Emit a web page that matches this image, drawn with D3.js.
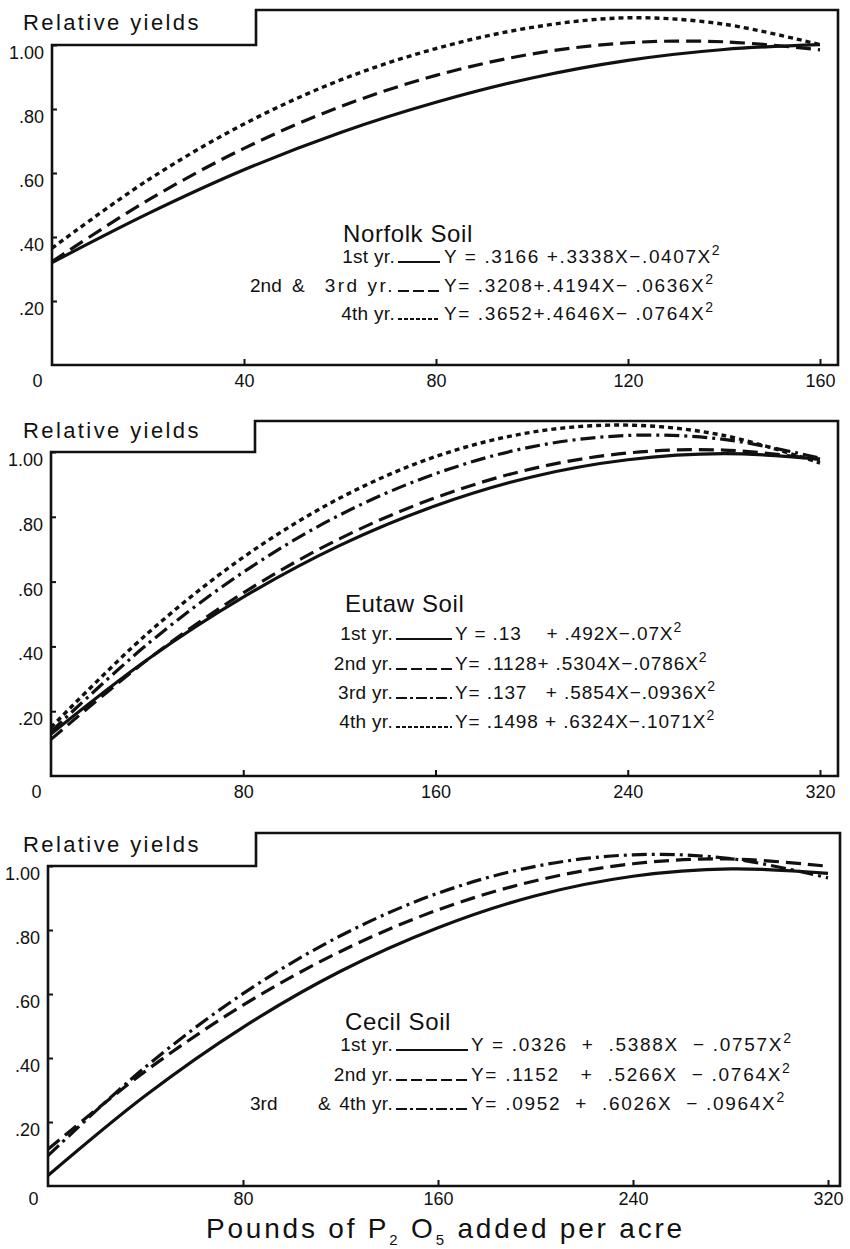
<!DOCTYPE html>
<html><head><meta charset="utf-8">
<script src="https://cdn.jsdelivr.net/npm/d3@7"></script>
<style>
body{margin:0;background:#fff}
svg{display:block}
text{font-family:"Liberation Sans",Arial,sans-serif;fill:#111}
</style>
</head><body>
<svg id="c" width="850" height="1249"></svg>
<script>
// ---------------- DATA ----------------
const norfolkLbs      = [0, 20, 40, 60, 80, 100, 120, 140, 160];
const norfolk1st      = [0.320, 0.473, 0.610, 0.726, 0.821, 0.897, 0.952, 0.986, 1.001];
const norfolk2nd3rd   = [0.323, 0.515, 0.677, 0.807, 0.905, 0.972, 1.007, 1.010, 0.985];
const norfolk4th      = [0.365, 0.578, 0.753, 0.890, 0.989, 1.055, 1.085, 1.065, 1.001];
const norfolkTicks    = [0, 40, 80, 120, 160];
const norfolkLabels   = ["2nd", "&"];
const norfolkRowLabels= ["1st yr.", "3rd yr.", "4th yr."];
const norfolkEqs      = ["Y = .3166 +.3338X\u2212.0407X", "Y= .3208+.4194X\u2212 .0636X", "Y= .3652+.4646X\u2212 .0764X"];

const eutawLbs        = [0, 40, 80, 120, 160, 200, 240, 280, 320];
const eutaw1st        = [0.130, 0.359, 0.552, 0.711, 0.834, 0.923, 0.976, 0.995, 0.978];
const eutaw2nd        = [0.113, 0.358, 0.565, 0.732, 0.859, 0.948, 0.997, 1.006, 0.977];
const eutaw3rd        = [0.137, 0.406, 0.629, 0.805, 0.933, 1.016, 1.051, 1.039, 0.981];
const eutaw4th        = [0.150, 0.439, 0.675, 0.857, 0.986, 1.061, 1.083, 1.051, 0.966];
const eutawTicks      = [0, 80, 160, 240, 320];
const eutawRowLabels  = ["1st yr.", "2nd yr.", "3rd yr.", "4th yr."];
const eutawEqs        = ["Y = .13    + .492X\u2212.07X", "Y= .1128+ .5304X\u2212.0786X", "Y= .137   + .5854X\u2212.0936X", "Y= .1498 + .6324X\u2212.1071X"];

const cecilLbs        = [0, 40, 80, 120, 160, 200, 240, 280, 320];
const cecil1st        = [0.033, 0.283, 0.496, 0.671, 0.807, 0.907, 0.968, 0.991, 0.977];
const cecil2nd        = [0.115, 0.359, 0.565, 0.733, 0.863, 0.954, 1.007, 1.022, 0.999];
const cecil3rd4th     = [0.095, 0.372, 0.601, 0.782, 0.915, 0.999, 1.035, 1.023, 0.963];
const cecilTicks      = [0, 80, 160, 240, 320];
const cecilLabels     = ["3rd", "&"];
const cecilRowLabels  = ["1st yr.", "2nd yr.", "4th yr."];
const cecilEqs        = ["Y = .0326  +  .5388X  \u2212 .0757X", "Y= .1152   +  .5266X  \u2212 .0764X", "Y= .0952  +  .6026X  \u2212 .0964X"];

const yTicks          = [0.2, 0.4, 0.6, 0.8, 1.0];
const yAxisTitle      = "Relative yields";

// ---------------- STYLES ----------------
const INK = "#111";
const styleSolid   = {dash: null,        w: 3.2, key: "dash0"};
const styleDash    = {dash: "15,7",      w: 3.2, key: "dash"};
const styleDot     = {dash: "5,4",       w: 3.4, key: "dot"};
const styleDashDot = {dash: "15,5,3,5",  w: 3.2, key: "dashdot"};
const sampleDash   = {dash0: null, dash: "11,4", dot: "4,2", dashdot: "11,3,3,3"};

const panels = [
  {name: "Norfolk Soil", lbs: norfolkLbs, xMax: 160, ticks: norfolkTicks,
   series: [[norfolk1st, styleSolid], [norfolk2nd3rd, styleDash], [norfolk4th, styleDot]],
   rowLabels: norfolkRowLabels, extra: {row: 1, words: norfolkLabels, xs: [250, 292]}, eqs: norfolkEqs, eqLs: 1.6,
   left: 52, xEnd: 820, right: 838, bottom: 365, y1: 45, top: 10, stepX: 256, titleY: 30, tickPad: 9,
   legX: 343, legTitleY: 242, rows: [263, 292, 320], labelEnd: 395, sample: [398, 440], eqX: 444},
  {name: "Eutaw Soil", lbs: eutawLbs, xMax: 320, ticks: eutawTicks,
   series: [[eutaw1st, styleSolid], [eutaw2nd, styleDash], [eutaw3rd, styleDashDot], [eutaw4th, styleDot]],
   rowLabels: eutawRowLabels, extra: null, eqs: eutawEqs, eqLs: 0.9,
   left: 51, xEnd: 820, right: 838, bottom: 776, y1: 452, top: 421, stepX: 255, titleY: 438, tickPad: 9,
   legX: 345, legTitleY: 612, rows: [640, 670, 699, 728], labelEnd: 393, sample: [396, 452], eqX: 455},
  {name: "Cecil Soil", lbs: cecilLbs, xMax: 320, ticks: cecilTicks,
   series: [[cecil1st, styleSolid], [cecil2nd, styleDash], [cecil3rd4th, styleDashDot]],
   rowLabels: cecilRowLabels, extra: {row: 2, words: cecilLabels, xs: [250, 318]}, eqs: cecilEqs, eqLs: 1.7,
   left: 48, xEnd: 828, right: 840, bottom: 1186, y1: 866, top: 833, stepX: 256, titleY: 852, tickPad: 6,
   legX: 345, legTitleY: 1030, rows: [1051, 1081, 1110], labelEnd: 393, sample: [396, 468], eqX: 471}
];

const svg = d3.select("#c");
svg.append("rect").attr("width", 850).attr("height", 1249).attr("fill", "#fff");

panels.forEach(p => {
  const x = d3.scaleLinear().domain([0, p.xMax]).range([p.left, p.xEnd]);
  const y = d3.scaleLinear().domain([0, 1]).range([p.bottom, p.y1]);
  const g = svg.append("g");

  // frame with step
  g.append("path")
    .attr("d", `M${p.left},${p.bottom}L${p.left},${p.y1}L${p.stepX},${p.y1}L${p.stepX},${p.top}L${p.right},${p.top}L${p.right},${p.bottom}Z`)
    .attr("fill", "none").attr("stroke", INK).attr("stroke-width", 2.6);

  // x axis
  const xa = g.append("g").attr("transform", `translate(0,${p.bottom})`)
    .call(d3.axisBottom(x).tickValues(p.ticks).tickSize(-6).tickPadding(p.tickPad).tickFormat(d3.format("d")));
  xa.select(".domain").remove();
  xa.selectAll(".tick line").attr("stroke", INK).attr("stroke-width", 2);
  xa.selectAll(".tick text").attr("font-size", 18).attr("fill", INK);
  xa.selectAll(".tick").filter(d => d === 0).select("line").remove();
  xa.selectAll(".tick").filter(d => d === 0).select("text").attr("x", -15);

  // y axis
  const ya = g.append("g").attr("transform", `translate(${p.left},0)`)
    .call(d3.axisLeft(y).tickValues(yTicks).tickSize(-5).tickPadding(8)
      .tickFormat(d => d3.format(".2f")(d).replace(/^0/, "")));
  ya.select(".domain").remove();
  ya.selectAll(".tick line").attr("stroke", INK).attr("stroke-width", 2);
  ya.selectAll(".tick text").attr("font-size", 18).attr("fill", INK).attr("dy", "0.75em");

  // axis title
  g.append("text").attr("x", 23).attr("y", p.titleY)
    .attr("font-size", 22).attr("letter-spacing", 2.4).text(yAxisTitle);

  // curves
  const line = d3.line().x((d, i) => x(p.lbs[i])).y(d => y(d)).curve(d3.curveCatmullRom.alpha(0.5));
  p.series.forEach(([vals, st]) => {
    g.append("path").datum(vals).attr("d", line)
      .attr("fill", "none").attr("stroke", INK).attr("stroke-width", st.w)
      .attr("stroke-dasharray", st.dash).attr("stroke-linecap", "butt");
  });

  // legend
  g.append("text").attr("x", p.legX).attr("y", p.legTitleY)
    .attr("font-size", 24).attr("letter-spacing", 0.6).text(p.name);
  p.rows.forEach((ry, i) => {
    const st = p.series[i][1];
    g.append("text").attr("x", p.labelEnd).attr("y", ry).attr("text-anchor", "end")
      .attr("font-size", 19).attr("letter-spacing", p.extra && p.extra.row === i && i === 1 ? 2.5 : 0.3)
      .text(p.rowLabels[i]);
    g.append("line").attr("x1", p.sample[0]).attr("x2", p.sample[1]).attr("y1", ry - 1).attr("y2", ry - 1)
      .attr("stroke", INK).attr("stroke-width", 2).attr("stroke-dasharray", sampleDash[st.key]);
    const t = g.append("text").attr("x", p.eqX).attr("y", ry).attr("font-size", 19)
      .attr("letter-spacing", p.eqLs).style("white-space", "pre");
    t.append("tspan").text(p.eqs[i]);
    t.append("tspan").attr("dy", -8).attr("font-size", 14).text("2");
  });
  if (p.extra) {
    p.extra.words.forEach((w, k) => {
      g.append("text").attr("x", p.extra.xs[k]).attr("y", p.rows[p.extra.row])
        .attr("font-size", 19).text(w);
    });
  }
});

// x axis title
const xt = svg.append("text").attr("x", 206).attr("y", 1238).attr("font-size", 28).attr("letter-spacing", 2.8);
xt.append("tspan").text("Pounds of  P");
xt.append("tspan").attr("dy", 7).attr("font-size", 15).text("2");
xt.append("tspan").attr("dy", -7).text(" O");
xt.append("tspan").attr("dy", 7).attr("font-size", 15).text("5");
xt.append("tspan").attr("dy", -7).text(" added per acre");
</script>
</body></html>
